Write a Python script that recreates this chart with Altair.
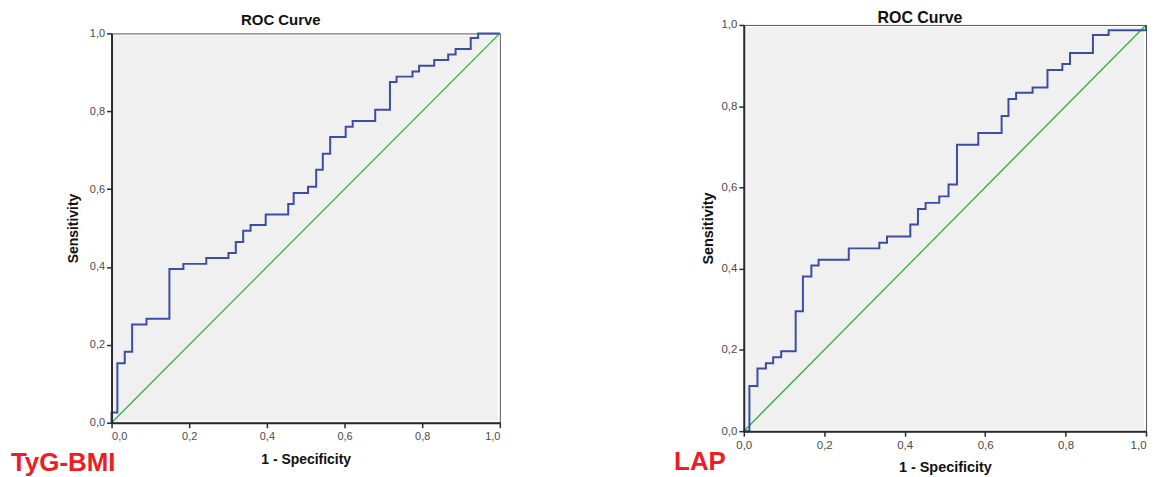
import altair as alt
import pandas as pd

# ---------------- data ----------------
tick_values = [0.0, 0.2, 0.4, 0.6, 0.8, 1.0]
panel_titles = ["ROC Curve", "ROC Curve"]
x_title = "1 - Specificity"
y_title = "Sensitivity"
panel_names = ["TyG-BMI", "LAP"]

# step-before vertices (1 - specificity, sensitivity)
tyg_fpr = [0.0, 0.015, 0.034, 0.053, 0.090, 0.149, 0.185, 0.244, 0.301, 0.320,
           0.339, 0.358, 0.397, 0.455, 0.469, 0.506, 0.527, 0.544, 0.563, 0.603,
           0.621, 0.679, 0.717, 0.734, 0.775, 0.792, 0.831, 0.867, 0.886, 0.925,
           0.944, 1.0]
tyg_tpr = [0.0, 0.026, 0.153, 0.182, 0.252, 0.267, 0.395, 0.408, 0.423, 0.436,
           0.464, 0.493, 0.508, 0.535, 0.562, 0.590, 0.606, 0.650, 0.691, 0.734,
           0.760, 0.775, 0.804, 0.875, 0.889, 0.902, 0.917, 0.932, 0.946, 0.960,
           0.988, 1.0]

lap_fpr = [0.0, 0.014, 0.034, 0.055, 0.073, 0.093, 0.129, 0.147, 0.168, 0.186,
           0.261, 0.337, 0.356, 0.414, 0.433, 0.452, 0.486, 0.509, 0.530, 0.583,
           0.641, 0.658, 0.677, 0.718, 0.755, 0.792, 0.811, 0.868, 0.907, 1.0,
           1.0]
lap_tpr = [0.0, 0.0, 0.111, 0.154, 0.167, 0.182, 0.197, 0.295, 0.381, 0.408,
           0.422, 0.450, 0.464, 0.479, 0.509, 0.547, 0.562, 0.578, 0.607, 0.705,
           0.734, 0.776, 0.818, 0.833, 0.846, 0.889, 0.904, 0.931, 0.975, 0.987,
           1.0]

ref_x = [0.0, 1.0]
ref_y = [0.0, 1.0]

FONT = "Liberation Sans"
LABEL_EXPR = "replace(format(datum.value, '.1f'), '.', ',')"


def panel(fpr, tpr, name, title, w, h, title_size, title_y, label_size,
          axis_title_size, x_title_pad, y_title_pad, name_x, name_y, flush_last):
    roc = pd.DataFrame({"fpr": fpr, "tpr": tpr, "order": list(range(len(fpr)))})
    ref = pd.DataFrame({"fpr": ref_x, "tpr": ref_y})
    xs = alt.Scale(domain=[0, 1], nice=False, zero=False)
    ys = alt.Scale(domain=[0, 1], nice=False, zero=False)
    common = dict(
        values=tick_values, labelExpr=LABEL_EXPR, grid=False,
        domainColor="#2a2a2a", domainWidth=2, tickColor="#2a2a2a", tickWidth=1.5,
        tickSize=5, labelFont=FONT, labelFontSize=label_size, labelColor="#4a4a4a",
        titleFont=FONT, titleFontSize=axis_title_size, titleFontWeight="bold",
        titleColor="#111111", zindex=2,
    )
    xextra = {}
    if flush_last:
        xextra["labelAlign"] = alt.ExprRef(expr="datum.value >= 1 ? 'right' : 'center'")
    xaxis = alt.Axis(title=x_title, labelPadding=3, titlePadding=x_title_pad,
                     **common, **xextra)
    yaxis = alt.Axis(title=y_title, labelPadding=2, titlePadding=y_title_pad, **common)

    bg = alt.Chart(pd.DataFrame({"k": [0]})).mark_rect(color="#f0f0f0").encode(
        x=alt.value(2), x2=alt.value(w - 2), y=alt.value(2), y2=alt.value(h - 2)
    )
    diag = alt.Chart(ref).mark_line(color="#2db441", strokeWidth=1.3).encode(
        x=alt.X("fpr:Q", scale=xs, axis=xaxis),
        y=alt.Y("tpr:Q", scale=ys, axis=yaxis),
    )
    curve = alt.Chart(roc).mark_line(
        color="#3a4ea6", strokeWidth=2, interpolate="step-before"
    ).encode(x="fpr:Q", y="tpr:Q", order="order:Q")
    label = alt.Chart(pd.DataFrame({"name": [name]})).mark_text(
        align="left", baseline="alphabetic", font=FONT, fontSize=26,
        fontWeight="bold", color="#ef1c25"
    ).encode(text="name:N", x=alt.value(name_x), y=alt.value(name_y))
    head = alt.Chart(pd.DataFrame({"title": [title]})).mark_text(
        align="center", baseline="alphabetic", font=FONT, fontSize=title_size,
        fontWeight="bold", color="#111111"
    ).encode(text="title:N", x=alt.value(w / 2 - 25), y=alt.value(title_y))

    return alt.layer(bg, diag, curve, label, head).properties(width=w, height=h)


left = panel(tyg_fpr, tyg_tpr, panel_names[0], panel_titles[0], 390, 391,
             15, -8, 11, 14, 11, 9, -101, 439, False)
right = panel(lap_fpr, lap_tpr, panel_names[1], panel_titles[1], 404, 408,
              16, -2, 11.5, 14.5, 10, 5, -70, 447, True)

chart = alt.hconcat(left, right, spacing=245, bounds="flush", center=True).properties(
    padding={"left": 2, "top": 0, "right": 0, "bottom": 0}
).configure_view(fill="white", stroke="#555555", strokeWidth=1)

chart.save("out.html", embed_options={"renderer": "svg", "actions": False})
